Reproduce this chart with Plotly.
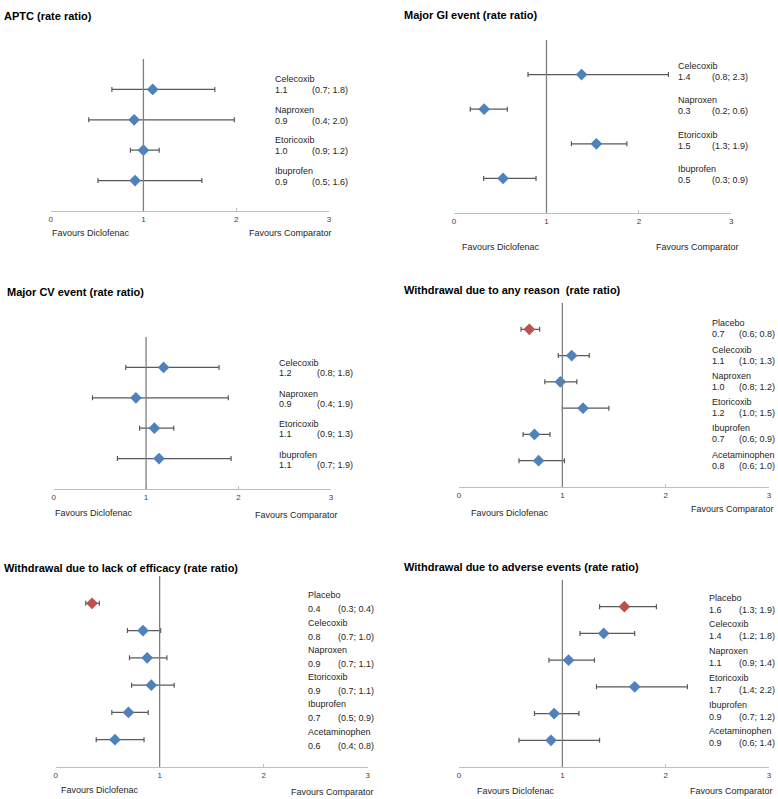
import plotly.graph_objects as go

W, H = 778, 799

# ---------------- data ----------------
titles = [
    "APTC (rate ratio)",
    "Major GI event (rate ratio)",
    "Major CV event (rate ratio)",
    "Withdrawal due to any reason  (rate ratio)",
    "Withdrawal due to lack of efficacy (rate ratio)",
    "Withdrawal due to adverse events (rate ratio)",
]

drugs4 = ["Celecoxib", "Naproxen", "Etoricoxib", "Ibuprofen"]
drugs6 = ["Placebo", "Celecoxib", "Naproxen", "Etoricoxib", "Ibuprofen", "Acetaminophen"]

# APTC
aptc_est = [1.10, 0.90, 1.00, 0.91]
aptc_lo = [0.66, 0.41, 0.86, 0.51]
aptc_hi = [1.77, 1.98, 1.17, 1.63]
aptc_val = ["1.1", "0.9", "1.0", "0.9"]
aptc_ci = ["(0.7; 1.8)", "(0.4; 2.0)", "(0.9; 1.2)", "(0.5; 1.6)"]

# Major GI
gi_est = [1.38, 0.325, 1.54, 0.53]
gi_lo = [0.80, 0.175, 1.27, 0.32]
gi_hi = [2.32, 0.576, 1.87, 0.887]
gi_val = ["1.4", "0.3", "1.5", "0.5"]
gi_ci = ["(0.8; 2.3)", "(0.2; 0.6)", "(1.3; 1.9)", "(0.3; 0.9)"]

# Major CV
cv_est = [1.19, 0.89, 1.09, 1.14]
cv_lo = [0.78, 0.42, 0.93, 0.69]
cv_hi = [1.79, 1.89, 1.30, 1.92]
cv_val = ["1.2", "0.9", "1.1", "1.1"]
cv_ci = ["(0.8; 1.8)", "(0.4; 1.9)", "(0.9; 1.3)", "(0.7; 1.9)"]

# Withdrawal any reason
any_est = [0.68, 1.09, 0.98, 1.20, 0.73, 0.77]
any_lo = [0.60, 0.96, 0.83, 1.00, 0.62, 0.58]
any_hi = [0.78, 1.26, 1.14, 1.45, 0.88, 1.02]
any_val = ["0.7", "1.1", "1.0", "1.2", "0.7", "0.8"]
any_ci = ["(0.6; 0.8)", "(1.0; 1.3)", "(0.8; 1.2)", "(1.0; 1.5)", "(0.6; 0.9)", "(0.6; 1.0)"]

# Withdrawal lack of efficacy
eff_est = [0.35, 0.84, 0.88, 0.92, 0.70, 0.57]
eff_lo = [0.29, 0.69, 0.71, 0.73, 0.54, 0.39]
eff_hi = [0.42, 1.01, 1.07, 1.14, 0.89, 0.85]
eff_val = ["0.4", "0.8", "0.9", "0.9", "0.7", "0.6"]
eff_ci = ["(0.3; 0.4)", "(0.7; 1.0)", "(0.7; 1.1)", "(0.7; 1.1)", "(0.5; 0.9)", "(0.4; 0.8)"]

# Withdrawal adverse events
ae_est = [1.60, 1.40, 1.06, 1.70, 0.92, 0.89]
ae_lo = [1.36, 1.17, 0.87, 1.33, 0.73, 0.58]
ae_hi = [1.91, 1.70, 1.31, 2.21, 1.16, 1.36]
ae_val = ["1.6", "1.4", "1.1", "1.7", "0.9", "0.9"]
ae_ci = ["(1.3; 1.9)", "(1.2; 1.8)", "(0.9; 1.4)", "(1.4; 2.2)", "(0.7; 1.2)", "(0.6; 1.4)"]

x_ticks = [0, 1, 2, 3]
x_tick_text = ["0", "1", "2", "3"]

panels = [
    dict(title=titles[0], names=drugs4, est=aptc_est, lo=aptc_lo, hi=aptc_hi, val=aptc_val, ci=aptc_ci),
    dict(title=titles[1], names=drugs4, est=gi_est, lo=gi_lo, hi=gi_hi, val=gi_val, ci=gi_ci),
    dict(title=titles[2], names=drugs4, est=cv_est, lo=cv_lo, hi=cv_hi, val=cv_val, ci=cv_ci),
    dict(title=titles[3], names=drugs6, est=any_est, lo=any_lo, hi=any_hi, val=any_val, ci=any_ci),
    dict(title=titles[4], names=drugs6, est=eff_est, lo=eff_lo, hi=eff_hi, val=eff_val, ci=eff_ci),
    dict(title=titles[5], names=drugs6, est=ae_est, lo=ae_lo, hi=ae_hi, val=ae_val, ci=ae_ci),
]

# ---------------- layout geometry (pixels) ----------------
geom = [
    dict(x0=49, x3=329, yb=211, yt=59, tx=0, ty=8, fl=(48, 233), fr=(247, 233), lx=2.4, cx=2.8, ny=-10, vy=1),
    dict(x0=455, x3=734, yb=213, yt=40, tx=403, ty=7, fl=(461, 247), fr=(656, 247), lx=2.4, cx=2.77, ny=-9, vy=2),
    dict(x0=52, x3=331, yb=489, yt=337, tx=3, ty=284, fl=(51, 513), fr=(253, 515), lx=2.42, cx=2.83, ny=-4, vy=6),
    dict(x0=460, x3=772, yb=487, yt=303, tx=403, ty=282, fl=(470, 513), fr=(691, 509), lx=2.43, cx=2.69, ny=-6, vy=5),
    dict(x0=54, x3=368, yb=767, yt=576, tx=0, ty=560, fl=(57, 790), fr=(289, 792), lx=2.41, cx=2.7, ny=-8, vy=6),
    dict(x0=460, x3=772, yb=767, yt=580, tx=403, ty=559, fl=(476, 791), fr=(690, 791), lx=2.4, cx=2.69, ny=-9, vy=3),
]

BLUE = "#4F81BD"
RED = "#C0504D"
ERR = "#595959"
FONT = "Liberation Sans Narrow, Arial Narrow, Liberation Sans, Arial, sans-serif"

fig = go.Figure()
layout = dict(
    width=W, height=H, margin=dict(l=0, r=0, t=0, b=0),
    paper_bgcolor="white", plot_bgcolor="white", showlegend=False,
    font=dict(family=FONT, color="#262626"),
)
annotations = []
shapes = []

for i, (p, g) in enumerate(zip(panels, geom)):
    k = "" if i == 0 else str(i + 1)
    n = len(p["names"])
    ys = [n - j for j in range(n)]
    colors = [RED if nm == "Placebo" else BLUE for nm in p["names"]]
    plus = [h - e for h, e in zip(p["hi"], p["est"])]
    minus = [e - l for e, l in zip(p["est"], p["lo"])]
    fig.add_trace(go.Scatter(
        x=p["est"], y=ys, mode="markers",
        marker=dict(symbol="diamond", size=9, color=colors),
        error_x=dict(type="data", array=plus, arrayminus=minus, color=ERR, thickness=1.2, width=2.5),
        xaxis="x" + k, yaxis="y" + k, hoverinfo="skip",
    ))
    layout["xaxis" + k] = dict(
        domain=[g["x0"] / W, g["x3"] / W], range=[0, 3], anchor="y" + k,
        tickvals=x_ticks, ticktext=x_tick_text, showgrid=False, zeroline=False,
        showline=True, linecolor="#BFBFBF", linewidth=1.2,
        ticks="inside", ticklen=3, tickcolor="#BFBFBF",
        tickfont=dict(size=8, color="#404040"), fixedrange=True,
    )
    layout["yaxis" + k] = dict(
        domain=[1 - g["yb"] / H, 1 - g["yt"] / H], range=[0, n + 1], anchor="x" + k,
        showgrid=False, zeroline=False, showticklabels=False, showline=False, fixedrange=True,
    )
    shapes.append(dict(type="line", xref="x" + k, yref="y" + k + " domain", x0=1, x1=1, y0=0, y1=1,
                       line=dict(color="#7F7F7F", width=1.3)))
    annotations.append(dict(text="<b>" + p["title"] + "</b>", xref="paper", yref="paper",
                            x=g["tx"] / W, y=1 - g["ty"] / H, xanchor="left", yanchor="top",
                            showarrow=False, font=dict(size=11, color="#000000")))
    annotations.append(dict(text="Favours Diclofenac", xref="paper", yref="paper",
                            x=g["fl"][0] / W, y=1 - g["fl"][1] / H, xanchor="left", yanchor="middle",
                            showarrow=False, font=dict(size=9, color="#262626")))
    annotations.append(dict(text="Favours Comparator", xref="paper", yref="paper",
                            x=g["fr"][0] / W, y=1 - g["fr"][1] / H, xanchor="left", yanchor="middle",
                            showarrow=False, font=dict(size=9, color="#262626")))
    for j in range(n):
        annotations.append(dict(text=p["names"][j], xref="x" + k, yref="y" + k, x=g["lx"], y=ys[j],
                                xanchor="left", yanchor="middle", yshift=-g["ny"], showarrow=False,
                                font=dict(size=9, color="#262626")))
        annotations.append(dict(text=p["val"][j], xref="x" + k, yref="y" + k, x=g["lx"], y=ys[j],
                                xanchor="left", yanchor="middle", yshift=-g["vy"], showarrow=False,
                                font=dict(size=9, color="#262626")))
        annotations.append(dict(text=p["ci"][j], xref="x" + k, yref="y" + k, x=g["cx"], y=ys[j],
                                xanchor="left", yanchor="middle", yshift=-g["vy"], showarrow=False,
                                font=dict(size=9, color="#262626")))

layout["annotations"] = annotations
layout["shapes"] = shapes
fig.update_layout(**layout)
fig.write_html("out.html", config={"displayModeBar": False},
               post_script="document.body.style.margin='0';document.body.style.overflow='hidden';")
